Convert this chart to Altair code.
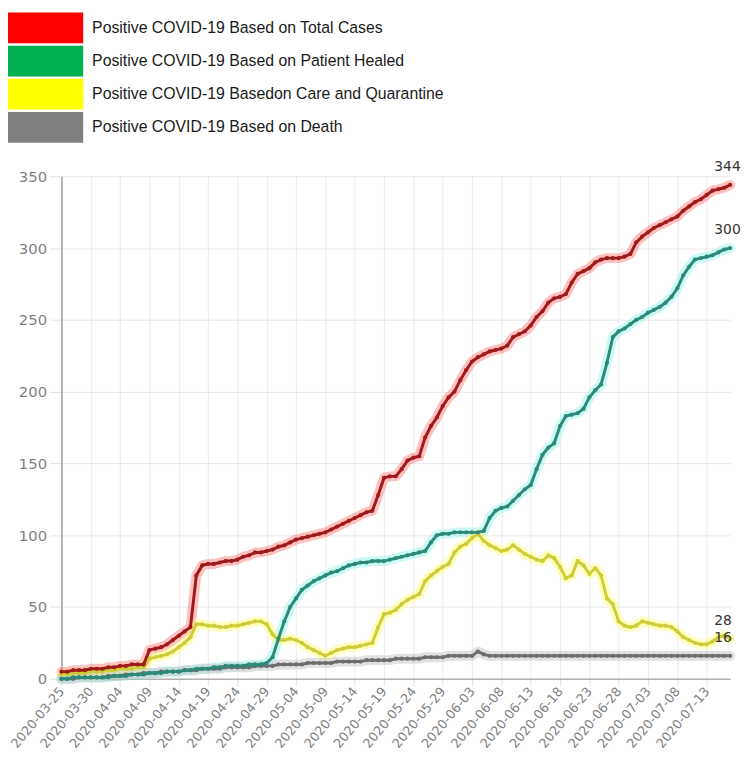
import altair as alt
import pandas as pd

# ---------------- data ----------------
dates = pd.date_range("2020-03-25", "2020-07-17", freq="D").strftime("%Y-%m-%d").tolist()
tick_dates = dates[::5]
y_ticks = [0, 50, 100, 150, 200, 250, 300, 350]

series_labels = [
    "Positive COVID-19 Based on Total Cases",
    "Positive COVID-19 Based on Patient Healed",
    "Positive COVID-19 Basedon Care and Quarantine",
    "Positive COVID-19 Based on Death",
]

total = [5, 5, 6, 6, 6, 7, 7, 7, 8, 8, 9, 9, 10, 10, 10,
         20, 21, 22, 24, 27, 30, 33,
         36, 72, 79, 80, 80, 81, 82, 82,
         83, 85, 86, 88, 88, 89, 90, 92, 93, 95,
         97, 98, 99, 100, 101, 102, 104, 106, 108, 110,
         112, 114, 116, 117, 128, 140, 141, 141, 146, 152,
         154, 155, 168, 176, 182, 190, 196, 200, 208, 215,
         221, 224, 226, 228, 229, 230, 232, 238, 240, 242,
         246, 252, 256, 262, 265, 266, 268, 276, 282, 284,
         286, 290, 292, 293, 293, 293, 294, 296, 304, 308,
         311, 314, 316, 318, 320, 322, 326, 329, 332, 334,
         337, 340, 341, 342, 344]

healed = [0, 0, 1, 1, 1, 1, 1, 1, 1, 2,
          2, 2, 3, 3, 3, 4, 4, 4, 5, 5,
          5, 6, 6, 7, 7, 7, 8, 8, 9, 9,
          9, 9, 10, 10, 10, 11, 15, 28, 40, 50,
          56, 62, 65, 68, 70, 72, 74, 75, 77, 79,
          80, 81, 81, 82, 82, 82, 83, 84, 85, 86,
          87, 88, 89, 95, 100, 101, 101, 102, 102, 102,
          102, 102, 103, 112, 117, 119, 120, 124, 128, 132,
          135, 146, 156, 161, 164, 176, 183, 184, 185, 188,
          196, 201, 205, 220, 238, 242, 244, 247, 250, 252,
          255, 257, 259, 262, 266, 272, 281, 287, 292, 293,
          294, 295, 297, 299, 300]

care = [3, 3, 4, 4, 4, 5, 5, 5, 6, 6,
        7, 7, 7, 8, 8, 14, 15, 16, 17, 19,
        22, 25, 29, 38, 38, 37, 37, 36, 36, 37,
        37, 38, 39, 40, 40, 38, 31, 27, 27, 28,
        27, 25, 22, 20, 18, 16, 18, 20, 21, 22,
        22, 23, 24, 25, 36, 45, 46, 48, 52, 55,
        57, 59, 68, 72, 75, 78, 80, 88, 92, 94,
        98, 101, 96, 93, 91, 89, 90, 93, 90, 87,
        85, 83, 82, 86, 84, 78, 70, 72, 82, 79,
        73, 77, 72, 56, 52, 40, 37, 36, 37, 40,
        39, 38, 37, 37, 36, 33, 29, 27, 25, 24,
        24, 26, 29, 30, 28]

death = [0, 0, 0, 1, 1, 1, 1, 1, 2, 2,
         2, 3, 3, 3, 4, 4, 4, 5, 5, 5,
         5, 6, 6, 6, 7, 7, 7, 7, 8, 8,
         8, 8, 8, 9, 9, 9, 9, 10, 10, 10,
         10, 10, 11, 11, 11, 11, 11, 12, 12, 12,
         12, 12, 13, 13, 13, 13, 13, 14, 14, 14,
         14, 14, 15, 15, 15, 15, 16, 16, 16, 16,
         16, 19, 17, 16, 16, 16, 16, 16, 16, 16,
         16, 16, 16, 16, 16, 16, 16, 16, 16, 16,
         16, 16, 16, 16, 16, 16, 16, 16, 16, 16,
         16, 16, 16, 16, 16, 16, 16, 16, 16, 16,
         16, 16, 16, 16, 16]

series_values = [total, healed, care, death]

legend_colors = ["#ff0000", "#00b050", "#ffff00", "#808080"]
line_colors = ["#9e1b1b", "#2e8a78", "#cfcc3a", "#6e6e6e"]
halo_colors = ["#ff7373", "#8ff3ea", "#ffff70", "#bdbdbd"]

rows = []
for name, vals in zip(series_labels, series_values):
    for d, v in zip(dates, vals):
        rows.append({"date": d, "series": name, "value": v})
df = pd.DataFrame(rows)

end_df = pd.DataFrame({
    "date": [dates[-1]] * 4,
    "series": series_labels,
    "value": [v[-1] for v in series_values],
})

legend_df = pd.DataFrame({"entry": series_labels})


def ms(s):
    return int(pd.Timestamp(s, tz="UTC").timestamp() * 1000)


# ---------------- chart ----------------
x_enc = alt.X(
    "date:T",
    scale=alt.Scale(type="utc", domain=[ms(dates[0]), ms(dates[-1])], nice=False),
    axis=alt.Axis(
        values=[ms(t) for t in tick_dates],
        labelExpr="utcFormat(datum.value, '%Y-%m-%d')",
        title=None,
        labelAngle=-50,
        labelAlign="right",
        labelBaseline="middle",
        labelFont="DejaVu Sans",
        labelFontSize=13,
        labelColor="#808080",
        labelPadding=3,
        labelOverlap=False,
        labelFlush=False,
        labelBound=False,
        tickSize=7,
        tickColor="#e4e4e4",
        gridColor="#ececec",
        domainColor="#b0b0b0",
        domainWidth=1.5,
    ),
)
y_enc = alt.Y(
    "value:Q",
    scale=alt.Scale(domain=[0, 350], nice=False),
    axis=alt.Axis(
        values=y_ticks,
        title=None,
        labelFont="DejaVu Sans",
        labelFontSize=15,
        labelColor="#808080",
        labelPadding=3,
        tickSize=12,
        tickColor="#e4e4e4",
        gridColor="#e8e8e8",
        domainColor="#a0a0a0",
        domainWidth=1.5,
    ),
)

base = alt.Chart(df).encode(x=x_enc, y=y_enc)

halo = base.mark_line(strokeWidth=10, opacity=0.45, strokeCap="round", strokeJoin="round").encode(
    stroke=alt.Stroke("series:N", scale=alt.Scale(domain=series_labels, range=halo_colors), legend=None),
    detail="series:N",
)

color_scale = alt.Scale(domain=series_labels, range=line_colors)
draw_order = [series_labels[2], series_labels[3], series_labels[0], series_labels[1]]
layers = [halo]
for s in draw_order:
    sub = base.transform_filter(alt.datum.series == s)
    layers.append(sub.mark_line(strokeWidth=3).encode(
        color=alt.Color("series:N", scale=color_scale, legend=None)))
    layers.append(sub.mark_point(filled=True, size=18, opacity=1).encode(
        color=alt.Color("series:N", scale=color_scale, legend=None)))

SYMBOL = "M-1,-0.97 L3.75,-0.97 L3.75,0.97 L-1,0.97 Z"
legend_layer = alt.Chart(legend_df).transform_filter("false").mark_point(
    filled=True, opacity=1, shape=SYMBOL, size=1024
).encode(
    x=alt.value(0),
    y=alt.value(0),
    fill=alt.Fill(
        "entry:N",
        scale=alt.Scale(domain=series_labels, range=legend_colors),
        legend=alt.Legend(
            title=None,
            orient="none",
            legendX=-54,
            legendY=-166,
            direction="vertical",
            symbolType=SYMBOL,
            symbolSize=1024,
            symbolStrokeWidth=0,
            symbolOpacity=1,
            labelOffset=53,
            labelFont="Liberation Sans",
            labelFontSize=16,
            labelColor="#1a1a1a",
            labelLimit=600,
            rowPadding=1.5,
            padding=0,
        ),
    ),
)
layers.append(legend_layer)

end_text = alt.Chart(end_df).mark_text(
    align="left", baseline="middle", dx=-16, dy=-18,
    font="DejaVu Sans", fontSize=14, color="#333333"
).encode(
    x=x_enc,
    y=y_enc,
    text=alt.Text("value:Q"),
)
layers.append(end_text)

chart = alt.layer(*layers).properties(
    width=676,
    height=508,
    autosize=alt.AutoSizeParams(type="none"),
    padding={"left": 54, "top": 166, "right": 12, "bottom": 82},
).resolve_scale(fill="independent").configure_view(stroke=None)

chart.save("out.html", embed_options={"renderer": "svg", "actions": False})
